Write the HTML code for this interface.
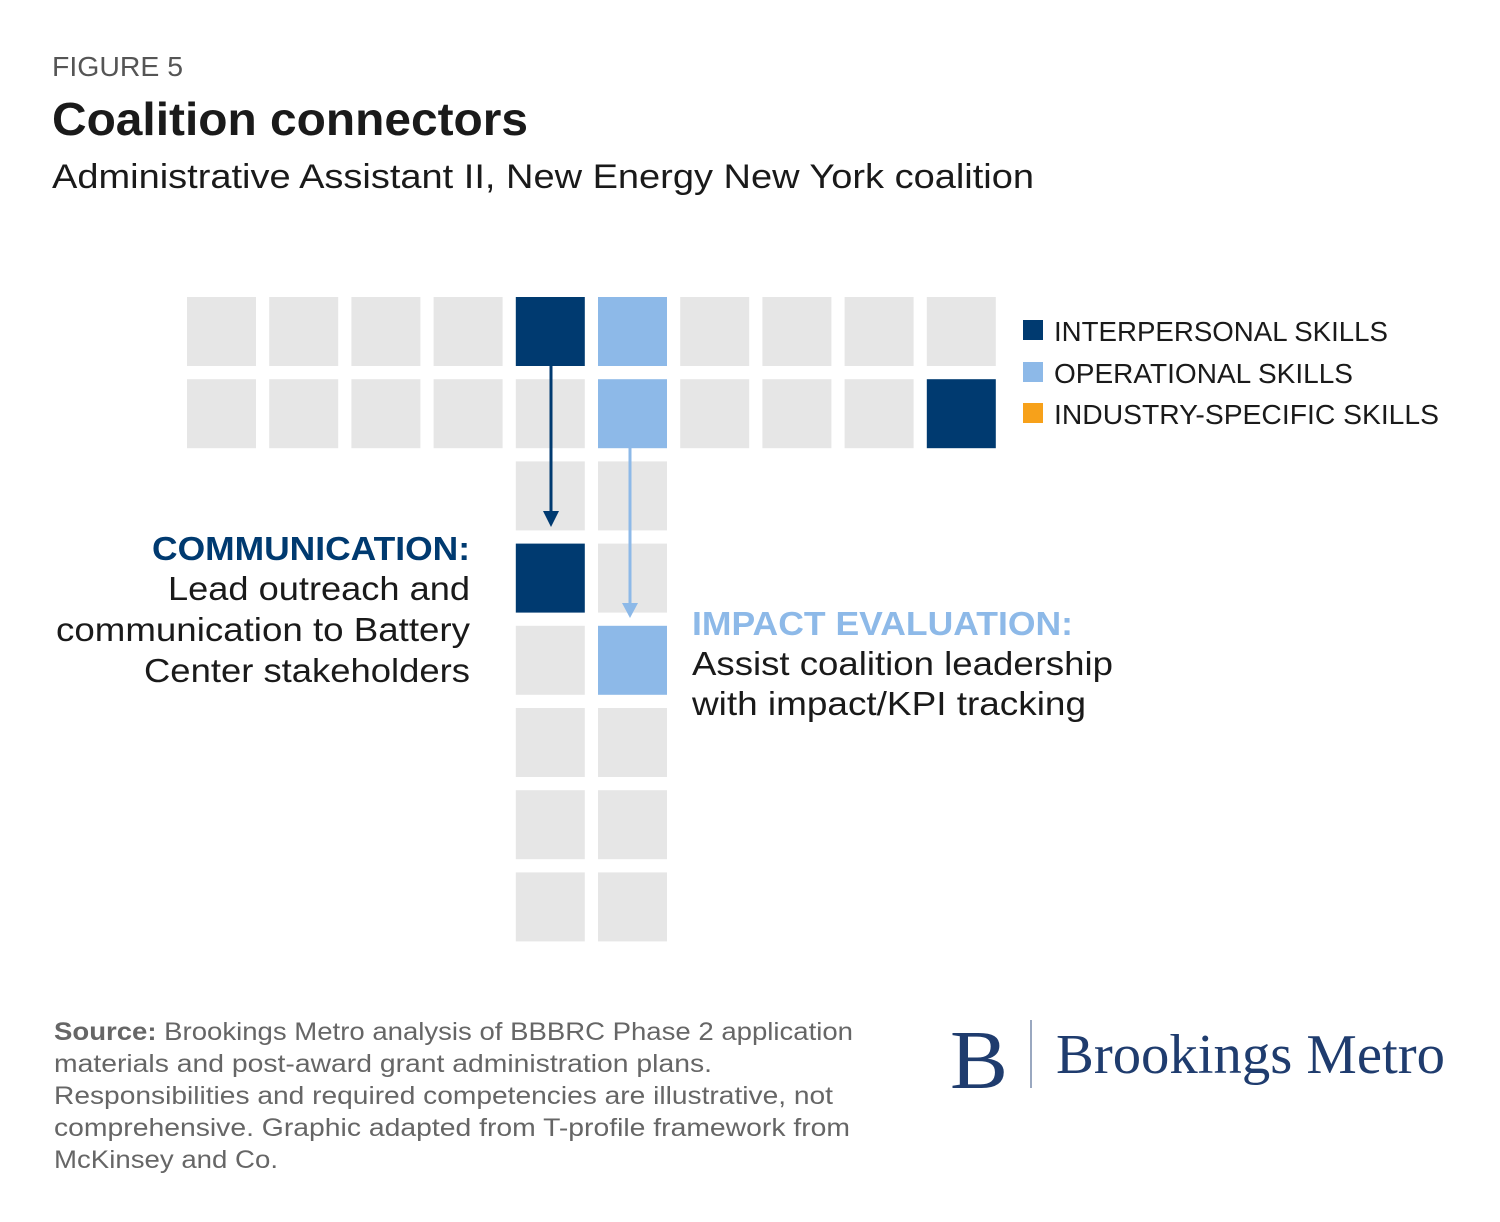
<!DOCTYPE html>
<html><head><meta charset="utf-8"><style>
body{margin:0;background:#fff;width:1500px;height:1222px;overflow:hidden;font-family:"Liberation Sans",sans-serif}
svg{position:absolute;left:0;top:0}
</style></head><body>
<svg width="1500" height="1222">
<text x="52" y="76" font-size="28" fill="#555" textLength="131" lengthAdjust="spacingAndGlyphs">FIGURE 5</text>
<text x="52" y="135" font-size="46" font-weight="bold" fill="#1a1a1a" textLength="476" lengthAdjust="spacingAndGlyphs">Coalition connectors</text>
<text x="52" y="188" font-size="34" fill="#1a1a1a" textLength="982" lengthAdjust="spacingAndGlyphs">Administrative Assistant II, New Energy New York coalition</text>
<g id="grid"></g>
<line x1="551" y1="366" x2="551" y2="512" stroke="#003a70" stroke-width="3"/>
<polygon points="543,511 559,511 551,527" fill="#003a70"/>
<line x1="630" y1="448" x2="630" y2="604" stroke="#8db9e8" stroke-width="3"/>
<polygon points="622,603 638,603 630,618" fill="#8db9e8"/>
<g font-size="28" fill="#1a1a1a">
<rect x="1023" y="320" width="20" height="20" fill="#003a70"/>
<text x="1054" y="341" textLength="334" lengthAdjust="spacingAndGlyphs">INTERPERSONAL SKILLS</text>
<rect x="1023" y="362" width="20" height="20" fill="#8db9e8"/>
<text x="1054" y="383" textLength="299" lengthAdjust="spacingAndGlyphs">OPERATIONAL SKILLS</text>
<rect x="1023" y="403" width="20" height="20" fill="#f7a11a"/>
<text x="1054" y="424" textLength="385" lengthAdjust="spacingAndGlyphs">INDUSTRY-SPECIFIC SKILLS</text>
</g>
<g font-size="33" fill="#1a1a1a">
<text x="152" y="560" font-weight="bold" fill="#003a70" textLength="318" lengthAdjust="spacingAndGlyphs">COMMUNICATION:</text>
<text x="168" y="600" textLength="302" lengthAdjust="spacingAndGlyphs">Lead outreach and</text>
<text x="56" y="641" textLength="414" lengthAdjust="spacingAndGlyphs">communication to Battery</text>
<text x="144" y="682" textLength="326" lengthAdjust="spacingAndGlyphs">Center stakeholders</text>
</g>
<g font-size="33" fill="#1a1a1a">
<text x="692" y="635" font-weight="bold" fill="#8db9e8" textLength="381" lengthAdjust="spacingAndGlyphs">IMPACT EVALUATION:</text>
<text x="692" y="675" textLength="421" lengthAdjust="spacingAndGlyphs">Assist coalition leadership</text>
<text x="692" y="715" textLength="394" lengthAdjust="spacingAndGlyphs">with impact/KPI tracking</text>
</g>
<g font-size="25" fill="#666">
<text x="54" y="1040" textLength="799" lengthAdjust="spacingAndGlyphs"><tspan font-weight="bold">Source:</tspan> Brookings Metro analysis of BBBRC Phase 2 application</text>
<text x="54" y="1072" textLength="658" lengthAdjust="spacingAndGlyphs">materials and post-award grant administration plans.</text>
<text x="54" y="1104" textLength="779" lengthAdjust="spacingAndGlyphs">Responsibilities and required competencies are illustrative, not</text>
<text x="54" y="1136" textLength="796" lengthAdjust="spacingAndGlyphs">comprehensive. Graphic adapted from T-profile framework from</text>
<text x="54" y="1168" textLength="224" lengthAdjust="spacingAndGlyphs">McKinsey and Co.</text>
</g>
<g fill="#1f3c6e" font-family="Liberation Serif,serif">
<text x="950" y="1088" font-size="84" textLength="58" lengthAdjust="spacingAndGlyphs">B</text>
<line x1="1031" y1="1020" x2="1031" y2="1088" stroke="#9aa8c0" stroke-width="2"/>
<text x="1056" y="1073" font-size="56" textLength="389" lengthAdjust="spacingAndGlyphs">Brookings Metro</text>
</g>
</svg>
<script>
const cols=[0,1,2,3,4,5,6,7,8,9];
const topRows=[0,1];
const stemRows=[2,3,4,5,6,7];
const darkCells=["4,0","9,1","4,3"];
const lightCells=["5,0","5,1","5,4"];
const colors={dark:"#003a70",light:"#8db9e8",gray:"#e6e6e6"};
const x0=187,y0=297,pitch=82.2,size=69;
const g=document.getElementById('grid');
function cell(c,r){
  const k=c+","+r;
  const cat=darkCells.includes(k)?"dark":lightCells.includes(k)?"light":"gray";
  const el=document.createElementNS("http://www.w3.org/2000/svg","rect");
  el.setAttribute('x',x0+c*pitch);el.setAttribute('y',y0+r*pitch);
  el.setAttribute('width',size);el.setAttribute('height',size);
  el.setAttribute('fill',colors[cat]);
  
  
  g.appendChild(el);
}
topRows.forEach(r=>cols.forEach(c=>cell(c,r)));
stemRows.forEach(r=>[4,5].forEach(c=>cell(c,r)));
</script>
</body></html>
